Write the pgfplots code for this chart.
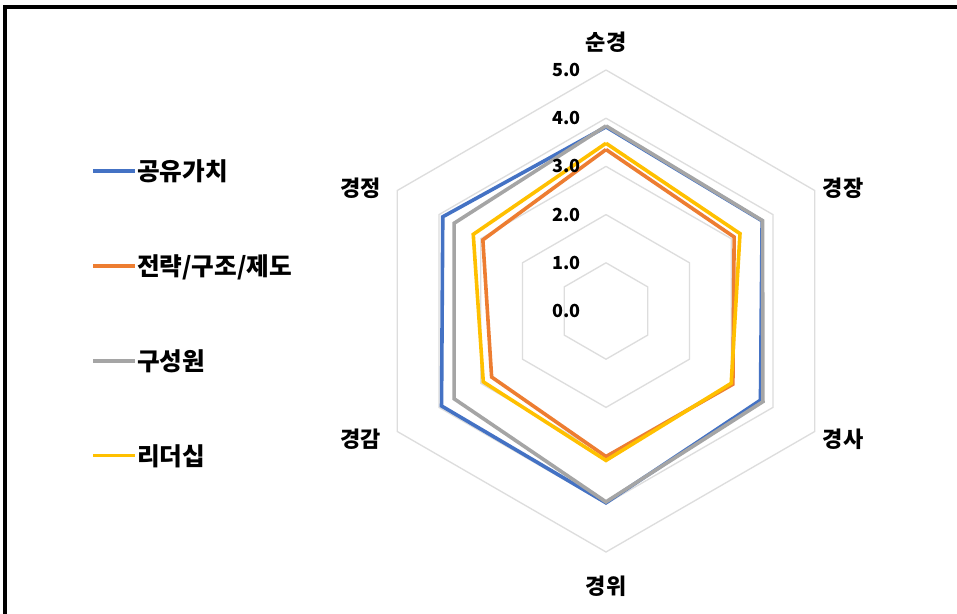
\documentclass[border=0pt]{standalone}
\usepackage{fontspec}
\usepackage{pgfplots}
\pgfplotsset{compat=1.18}
\usepgfplotslibrary{polar}
\newfontfamily\kr{Noto Sans CJK KR}
\definecolor{cblue}{HTML}{4472C4}
\definecolor{corange}{HTML}{ED7D31}
\definecolor{cgray}{HTML}{A5A5A5}
\definecolor{cyellow}{HTML}{FFC000}
\definecolor{cgrid}{HTML}{DDDDDD}
\tikzset{catlab/.style={font=\kr\bfseries\fontsize{16.5}{19}\selectfont, inner sep=0pt},
  ticklab/.style={font=\kr\bfseries\fontsize{13.5}{15}\selectfont, inner sep=0pt, anchor=east, xshift=-19pt}}
\begin{document}
\begin{tikzpicture}[x=1pt,y=1pt]
\useasboundingbox (0,0) rectangle (717.75,460.5);
\fill[white] (0,0) rectangle (717.75,460.5);
\draw[line width=2.6pt] (3.75,0) -- (3.75,455.25) -- (717.75,455.25);
\begin{polaraxis}[
  at={(454.5pt,227.25pt)}, anchor=center,
  width=361.5pt, height=361.5pt, scale only axis,
  hide axis, clip=false,
  xmin=0, xmax=360, ymin=0, ymax=5,
  legend cell align=left,
  legend image code/.code={\draw[#1] (0pt,0pt) -- (31.5pt,0pt);},
  legend style={draw=none, fill=none, at={(axis description cs:-0.568,0.82)}, anchor=north west,
    inner sep=0pt, row sep=50pt, column sep=-2pt,
    font=\kr\bfseries\fontsize{18.5}{21}\selectfont},
  every axis plot/.append style={line width=2.7pt, line join=miter},
]
% grid rings
\addplot[cgrid, line width=1pt, forget plot] coordinates {(90,1) (30,1) (-30,1) (-90,1) (-150,1) (150,1) (90,1)};
\addplot[cgrid, line width=1pt, forget plot] coordinates {(90,2) (30,2) (-30,2) (-90,2) (-150,2) (150,2) (90,2)};
\addplot[cgrid, line width=1pt, forget plot] coordinates {(90,3) (30,3) (-30,3) (-90,3) (-150,3) (150,3) (90,3)};
\addplot[cgrid, line width=1pt, forget plot] coordinates {(90,4) (30,4) (-30,4) (-90,4) (-150,4) (150,4) (90,4)};
\addplot[cgrid, line width=1pt, forget plot] coordinates {(90,5) (30,5) (-30,5) (-90,5) (-150,5) (150,5) (90,5)};
% series: order 순경(90) 경장(30) 경사(-30) 경위(-90) 경감(-150) 경정(150)
\addplot[cblue] coordinates {(90,3.82) (30,3.74) (-30,3.70) (-90,3.98) (-150,3.94) (150,3.91) (90,3.82)};
\addlegendentry{공유가치}
\addplot[corange] coordinates {(90,3.35) (30,3.07) (-30,3.04) (-90,3.02) (-150,2.74) (150,2.95) (90,3.35)};
\addlegendentry{전략/구조/제도}
\addplot[cgray] coordinates {(90,3.84) (30,3.75) (-30,3.76) (-90,3.96) (-150,3.64) (150,3.64) (90,3.84)};
\addlegendentry{구성원}
\addplot[cyellow] coordinates {(90,3.48) (30,3.21) (-30,3.00) (-90,3.10) (-150,2.94) (150,3.18) (90,3.48)};
\addlegendentry{리더십}
% category labels
\node[catlab, yshift=21pt] at (axis cs:90,5) {순경};
\node[catlab, anchor=west, xshift=6pt, yshift=1.5pt] at (axis cs:30,5) {경장};
\node[catlab, anchor=west, xshift=6pt, yshift=-6pt] at (axis cs:-30,5) {경사};
\node[catlab, yshift=-26pt] at (axis cs:-90,5) {경위};
\node[catlab, anchor=east, xshift=-12pt, yshift=-6pt] at (axis cs:-150,5) {경감};
\node[catlab, anchor=east, xshift=-12pt, yshift=1.5pt] at (axis cs:150,5) {경정};
% radial tick labels
\node[ticklab] at (axis cs:90,0) {0.0};
\node[ticklab] at (axis cs:90,1) {1.0};
\node[ticklab] at (axis cs:90,2) {2.0};
\node[ticklab] at (axis cs:90,3) {3.0};
\node[ticklab] at (axis cs:90,4) {4.0};
\node[ticklab] at (axis cs:90,5) {5.0};
\end{polaraxis}
\end{tikzpicture}
\end{document}
